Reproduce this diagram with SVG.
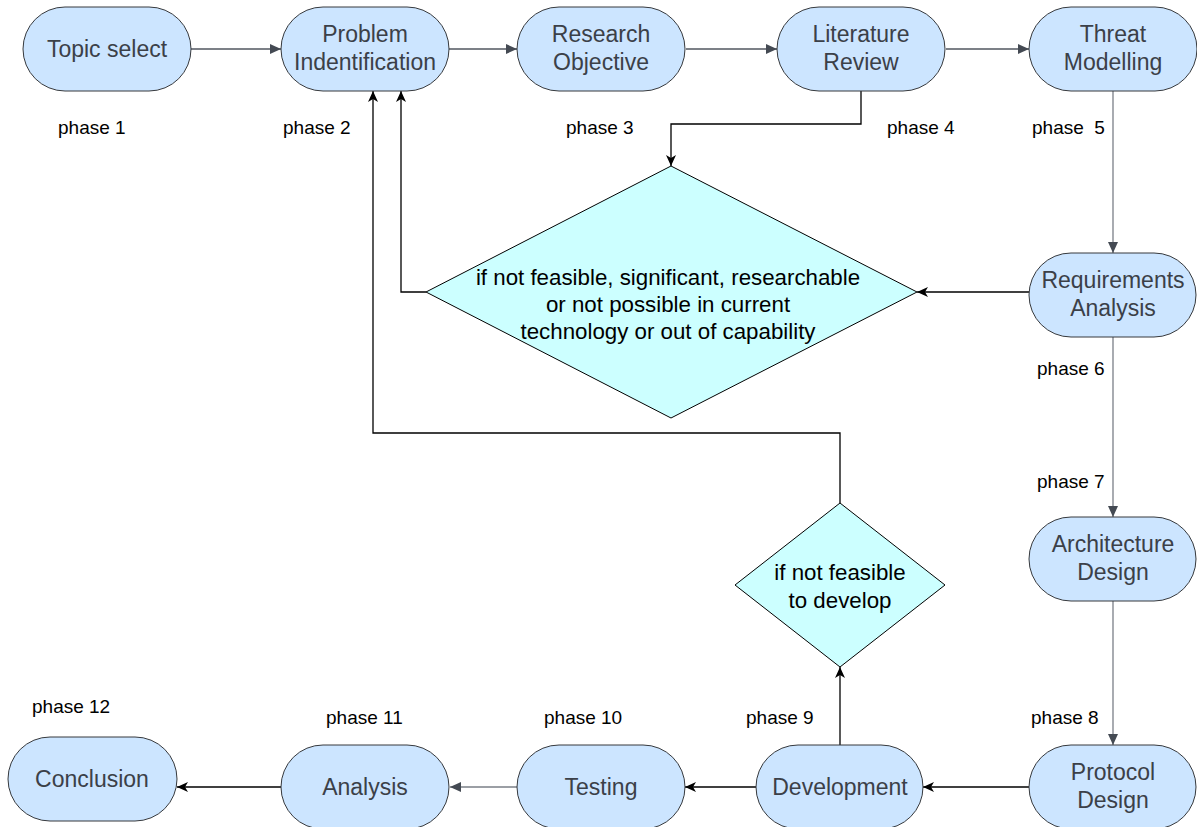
<svg xmlns="http://www.w3.org/2000/svg" width="1197" height="827" viewBox="0 0 1197 827">
<style>
.node rect{fill:#cce5ff;stroke:#36393d;stroke-width:1}
.node text{font-family:"Liberation Sans",Arial,sans-serif;font-size:23px;fill:#3b4048;text-anchor:middle}
.dec polygon{fill:#ccffff;stroke:#000;stroke-width:1}
.dec text{font-family:"Liberation Sans",Arial,sans-serif;font-size:22.3px;fill:#000;text-anchor:middle}
.phase{font-family:"Liberation Sans",Arial,sans-serif;font-size:19px;fill:#000}
.g{fill:none;stroke:#50565f;stroke-width:1.3;marker-end:url(#tri)}
.gl{fill:none;stroke:#7a7f87;stroke-width:1.3;marker-end:url(#tri)}
.k{fill:none;stroke:#000;stroke-width:1.3;marker-end:url(#cls)}
</style>
<defs>
<marker id="tri" viewBox="0 0 11 10" refX="11" refY="5" markerWidth="11" markerHeight="10" orient="auto" markerUnits="userSpaceOnUse"><path d="M0,0 L11,5 L0,10 z" fill="#444a53"/></marker>
<marker id="cls" viewBox="0 0 11 10" refX="11" refY="5" markerWidth="11" markerHeight="10" orient="auto" markerUnits="userSpaceOnUse"><path d="M0,0 L11,5 L0,10 L3,5 z" fill="#000"/></marker>
</defs>
<rect width="1197" height="827" fill="#fff"/>
<g id="connectors">
<path class="g" d="M191,49 H281"/>
<path class="g" d="M449,49 H517"/>
<path class="g" d="M686,49 H777"/>
<path class="g" d="M946,49 H1029"/>
<path class="k" d="M861,91 V124 H671 V166"/>
<path class="gl" d="M1113,91 V253"/>
<path class="k" d="M1029,292 H917"/>
<path class="k" d="M426,292 H401 V91"/>
<path class="gl" d="M1113,337 V517"/>
<path class="gl" d="M1113,601 V745"/>
<path class="k" d="M1029,787 H923"/>
<path class="k" d="M756,787 H685"/>
<path class="gl" d="M517,787 H450"/>
<path class="k" d="M281,787 H177"/>
<path class="k" d="M840,745 V667"/>
<path class="k" d="M840,503 V433 H373 V91"/>
</g>
<g id="topic" class="node"><rect x="23" y="7" width="168" height="84" rx="42"/><text x="107" y="57">Topic select</text></g>
<g id="problem" class="node"><rect x="281" y="7" width="168" height="84" rx="42"/><text x="365" y="42">Problem</text><text x="365" y="70">Indentification</text></g>
<g id="research" class="node"><rect x="517" y="7" width="168" height="84" rx="42"/><text x="601" y="42">Research</text><text x="601" y="70">Objective</text></g>
<g id="literature" class="node"><rect x="777" y="7" width="168" height="84" rx="42"/><text x="861" y="42">Literature</text><text x="861" y="70">Review</text></g>
<g id="threat" class="node"><rect x="1029" y="7" width="168" height="84" rx="42"/><text x="1113" y="42">Threat</text><text x="1113" y="70">Modelling</text></g>
<g id="requirements" class="node"><rect x="1029" y="253" width="167" height="84" rx="42"/><text x="1113" y="288">Requirements</text><text x="1113" y="316">Analysis</text></g>
<g id="architecture" class="node"><rect x="1029" y="517" width="167" height="84" rx="42"/><text x="1113" y="552">Architecture</text><text x="1113" y="580">Design</text></g>
<g id="protocol" class="node"><rect x="1029" y="745" width="167" height="84" rx="42"/><text x="1113" y="780">Protocol</text><text x="1113" y="808">Design</text></g>
<g id="development" class="node"><rect x="756" y="745" width="167" height="84" rx="42"/><text x="840" y="795">Development</text></g>
<g id="testing" class="node"><rect x="517" y="745" width="168" height="84" rx="42"/><text x="601" y="795">Testing</text></g>
<g id="analysis" class="node"><rect x="281" y="745" width="168" height="84" rx="42"/><text x="365" y="795">Analysis</text></g>
<g id="conclusion" class="node"><rect x="8" y="737" width="169" height="84" rx="42"/><text x="92" y="787">Conclusion</text></g>
<g id="decision1" class="dec"><polygon points="671,166 917,292 671,418 426,292"/><text x="668" y="285">if not feasible, significant, researchable</text><text x="668" y="312">or not possible in current</text><text x="668" y="339">technology or out of capability</text></g>
<g id="decision2" class="dec"><polygon points="840,503 945,585 840,667 735,585"/><text x="840" y="580">if not feasible</text><text x="840" y="608">to develop</text></g>
<g id="phases">
<text class="phase" x="58" y="134">phase 1</text>
<text class="phase" x="283" y="134">phase 2</text>
<text class="phase" x="566" y="134">phase 3</text>
<text class="phase" x="887" y="134">phase 4</text>
<text class="phase" x="1032" y="134" xml:space="preserve">phase  5</text>
<text class="phase" x="1037" y="375">phase 6</text>
<text class="phase" x="1037" y="488">phase 7</text>
<text class="phase" x="1031" y="724">phase 8</text>
<text class="phase" x="746" y="724">phase 9</text>
<text class="phase" x="544" y="724">phase 10</text>
<text class="phase" x="326" y="724">phase 11</text>
<text class="phase" x="32" y="713">phase 12</text>
</g>
</svg>
